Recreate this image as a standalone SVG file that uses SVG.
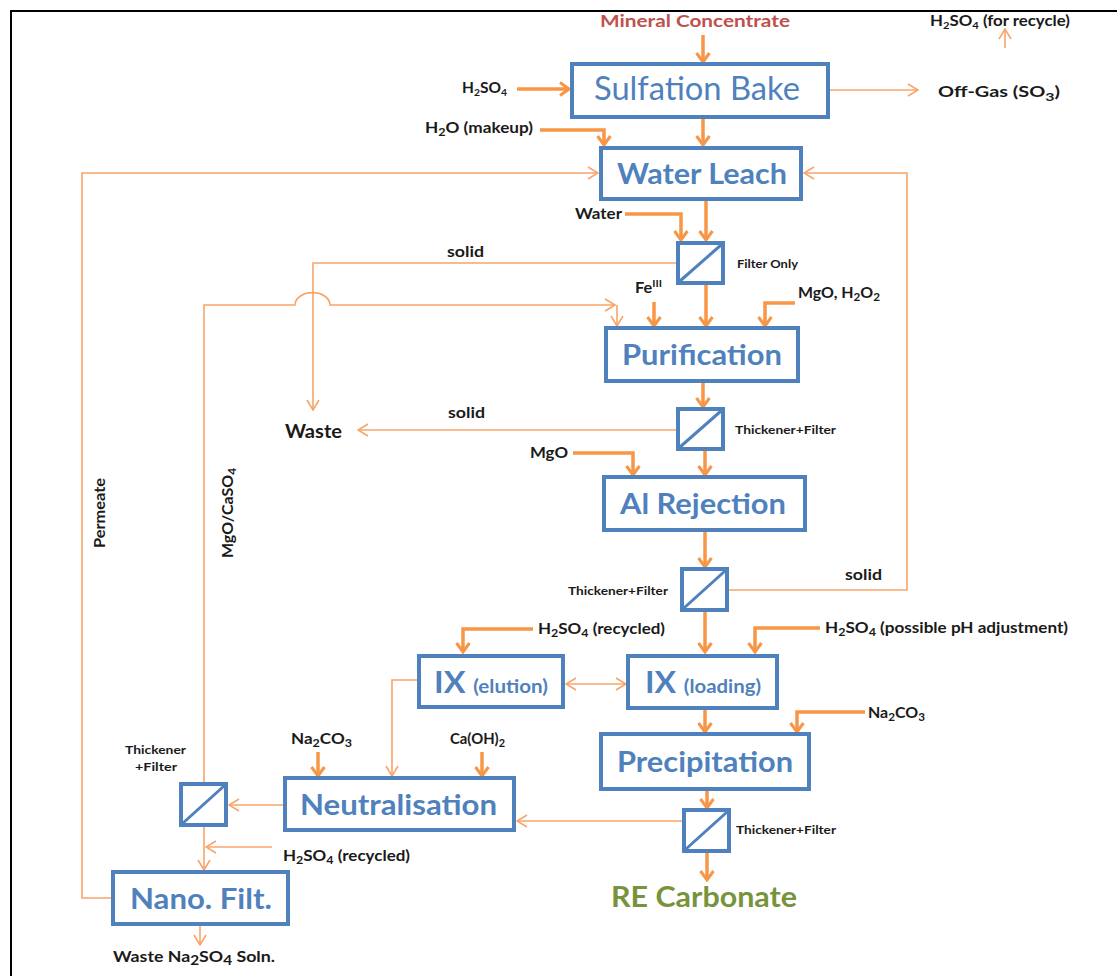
<svg xmlns="http://www.w3.org/2000/svg" width="1117" height="976" viewBox="0 0 1117 976">
<style>
.bg{fill:#fff}
.box{fill:#fff;stroke:#4F81BD;stroke-width:4}
.flt{fill:#fff;stroke:#4F81BD;stroke-width:4}
.diag{stroke:#4F81BD;stroke-width:3}
.bt{font-family:Lato,"Open Sans",sans-serif;font-weight:bold;fill:#4F81BD}
.lb{font-family:Lato,"Open Sans",sans-serif;font-weight:bold;fill:#1a1a1a;font-size:15px}
.sm{font-family:Lato,"Open Sans",sans-serif;font-weight:bold;fill:#1a1a1a;font-size:12px}
.thick{fill:none;stroke:#F79646;stroke-width:3.5;marker-end:url(#ah)}
.thin{fill:none;stroke:#F8A468;stroke-width:1.6;marker-end:url(#at)}
.plain{fill:none;stroke:#F8A468;stroke-width:1.6}
</style>
<defs>
<marker id="ah" viewBox="0 0 12 16" refX="10" refY="8" markerWidth="12" markerHeight="16" orient="auto" markerUnits="userSpaceOnUse">
<path d="M1,1.5 L10,8 L1,14.5" fill="none" stroke="#F79646" stroke-width="3"/>
</marker>
<marker id="at" viewBox="0 0 12 16" refX="11" refY="8" markerWidth="12" markerHeight="16" orient="auto-start-reverse" markerUnits="userSpaceOnUse">
<path d="M1,2 L11,8 L1,14" fill="none" stroke="#F8A468" stroke-width="1.6"/>
</marker>
</defs>
<rect class="bg" x="0" y="0" width="1117" height="976"/>
<path d="M11,976 V11 H1117" fill="none" stroke="#000" stroke-width="2"/>

<g id="connectors">
<path class="thick" d="M703,35 V62"/>
<path class="thick" d="M517,89 H569"/>
<path class="thin" d="M829,90 H918"/>
<path class="thin" d="M1005,48 V29"/>
<path class="thick" d="M703,117 V145"/>
<path class="thick" d="M540,130 H604 V145"/>
<path class="thin" d="M113,898 H82 V173 H598"/>
<path class="thin" d="M727,590 H907 V173 H804"/>
<path class="thick" d="M625,214 H681 V240"/>
<path class="thick" d="M706,199 V240"/>
<path class="thin" d="M678,263 H313 V410"/>
<path class="plain" d="M204,785 V305 H295 A17,12 0 0 1 330,305 H615"/>
<path d="M605,299 L615,305 L605,311" fill="none" stroke="#F8A468" stroke-width="1.6"/>
<path class="thin" d="M617,305 V326"/>
<path class="thick" d="M654,302 V326"/>
<path class="thick" d="M706,283 V326"/>
<path class="thick" d="M795,303 H765 V326"/>
<path class="thick" d="M703,382 V407"/>
<path class="thin" d="M678,430 H358"/>
<path class="thick" d="M573,453 H633 V475"/>
<path class="thick" d="M705,449 V475"/>
<path class="thick" d="M705,530 V567"/>
<path class="thick" d="M705,610 V652"/>
<path class="thick" d="M820,628 H755 V652"/>
<path class="thick" d="M533,629 H463 V652"/>
<path class="thin" style="marker-start:url(#at)" d="M566,684 H626"/>
<path class="thin" d="M419,680 H392 V776"/>
<path class="thick" d="M318,752 V776"/>
<path class="thick" d="M482,752 V776"/>
<path class="thin" d="M285,805 H229"/>
<path class="thick" d="M705,708 V732"/>
<path class="thick" d="M865,712 H797 V732"/>
<path class="thick" d="M707,789 V808"/>
<path class="thin" d="M684,821 H517"/>
<path class="thick" d="M707,851 V880"/>
<path class="thin" d="M204,825 V870"/>
<path class="thin" d="M272,847 H206"/>
<path class="thin" d="M200,924 V945"/>
</g>

<g id="sulfation-bake">
<rect class="box" x="572" y="64" width="256" height="53"/>
<text x="594" y="100" textLength="206" lengthAdjust="spacingAndGlyphs" font-family="Lato,'Open Sans',sans-serif" font-size="32" fill="#4F81BD">Sulfation Bake</text>
</g>
<g id="water-leach">
<rect class="box" x="601" y="148" width="200" height="51"/>
<text class="bt" x="617" y="184" font-size="29" textLength="170" lengthAdjust="spacingAndGlyphs">Water Leach</text>
</g>
<g id="filter1">
<rect class="flt" x="678" y="243" width="45" height="40"/>
<line class="diag" x1="680" y1="281" x2="721" y2="245"/>
</g>
<g id="purification">
<rect class="box" x="606" y="328" width="192" height="53"/>
<text class="bt" x="622" y="365" font-size="29" textLength="160" lengthAdjust="spacingAndGlyphs">Purification</text>
</g>
<g id="filter2">
<rect class="flt" x="678" y="409" width="45" height="40"/>
<line class="diag" x1="680" y1="447" x2="721" y2="411"/>
</g>
<g id="al-rejection">
<rect class="box" x="604" y="477" width="201" height="53"/>
<text class="bt" x="620" y="514" font-size="29" textLength="166" lengthAdjust="spacingAndGlyphs">Al Rejection</text>
</g>
<g id="filter3">
<rect class="flt" x="682" y="569" width="45" height="41"/>
<line class="diag" x1="684" y1="608" x2="725" y2="571"/>
</g>
<g id="ix-elution">
<rect class="box" x="419" y="656" width="144" height="51"/>
<text class="bt" x="434" y="693" font-size="30" textLength="114" lengthAdjust="spacingAndGlyphs">IX <tspan font-size="19">(elution)</tspan></text>
</g>
<g id="ix-loading">
<rect class="box" x="628" y="656" width="149" height="52"/>
<text class="bt" x="645" y="693" font-size="30" textLength="116" lengthAdjust="spacingAndGlyphs">IX <tspan font-size="19">(loading)</tspan></text>
</g>
<g id="precipitation">
<rect class="box" x="601" y="734" width="208" height="55"/>
<text class="bt" x="617" y="772" font-size="29" textLength="176" lengthAdjust="spacingAndGlyphs">Precipitation</text>
</g>
<g id="filter5">
<rect class="flt" x="684" y="810" width="45" height="41"/>
<line class="diag" x1="686" y1="849" x2="727" y2="812"/>
</g>
<g id="neutralisation">
<rect class="box" x="285" y="778" width="229" height="52"/>
<text class="bt" x="300" y="815" font-size="29" textLength="197" lengthAdjust="spacingAndGlyphs">Neutralisation</text>
</g>
<g id="filter4">
<rect class="flt" x="181" y="784" width="45" height="41"/>
<line class="diag" x1="183" y1="823" x2="224" y2="786"/>
</g>
<g id="nano-filt">
<rect class="box" x="113" y="872" width="175" height="52"/>
<text class="bt" x="130" y="909" font-size="29" textLength="142" lengthAdjust="spacingAndGlyphs">Nano. Filt.</text>
</g>
<g id="re-carbonate">
<text x="611" y="907" font-family="Lato,'Open Sans',sans-serif" font-weight="bold" font-size="29" fill="#77933C" textLength="186" lengthAdjust="spacingAndGlyphs">RE Carbonate</text>
</g>

<g id="labels">
<text x="600" y="27" font-family="Lato,'Open Sans',sans-serif" font-weight="bold" font-size="17" fill="#C0504D" textLength="190" lengthAdjust="spacingAndGlyphs">Mineral Concentrate</text>
<text class="lb" x="930" y="26" font-size="14" textLength="140" lengthAdjust="spacingAndGlyphs">H<tspan font-size="10" dy="3">2</tspan><tspan dy="-3">SO</tspan><tspan font-size="10" dy="3">4</tspan><tspan dy="-3"> (for recycle)</tspan></text>
<text class="lb" x="938" y="97" font-size="18" textLength="122" lengthAdjust="spacingAndGlyphs">Off-Gas (SO<tspan font-size="12" dy="4">3</tspan><tspan dy="-4">)</tspan></text>
<text class="lb" x="462" y="93" font-size="14" textLength="45" lengthAdjust="spacingAndGlyphs">H<tspan font-size="10" dy="3">2</tspan><tspan dy="-3">SO</tspan><tspan font-size="10" dy="3">4</tspan></text>
<text class="lb" x="425" y="133" textLength="108" lengthAdjust="spacingAndGlyphs">H<tspan font-size="11" dy="3">2</tspan><tspan dy="-3">O (makeup)</tspan></text>
<text class="lb" x="575" y="219" textLength="47" lengthAdjust="spacingAndGlyphs">Water</text>
<text class="lb" x="447" y="257" textLength="37" lengthAdjust="spacingAndGlyphs">solid</text>
<text class="sm" x="737" y="268" textLength="61" lengthAdjust="spacingAndGlyphs">Filter Only</text>
<text class="lb" x="635" y="293" textLength="27" lengthAdjust="spacingAndGlyphs">Fe<tspan font-size="10" dy="-6">III</tspan></text>
<text class="lb" x="798" y="298" font-size="16" textLength="82" lengthAdjust="spacingAndGlyphs">MgO, H<tspan font-size="11" dy="3">2</tspan><tspan dy="-3">O</tspan><tspan font-size="11" dy="3">2</tspan></text>
<text class="lb" x="448" y="418" textLength="37" lengthAdjust="spacingAndGlyphs">solid</text>
<text x="285" y="438" font-family="Lato,'Open Sans',sans-serif" font-weight="bold" font-size="19" fill="#1a1a1a" textLength="57" lengthAdjust="spacingAndGlyphs">Waste</text>
<text class="sm" x="735" y="434" textLength="101" lengthAdjust="spacingAndGlyphs">Thickener+Filter</text>
<text class="lb" x="530" y="458" textLength="38" lengthAdjust="spacingAndGlyphs">MgO</text>
<text class="sm" x="568" y="595" textLength="100" lengthAdjust="spacingAndGlyphs">Thickener+Filter</text>
<text class="lb" x="845" y="580" textLength="37" lengthAdjust="spacingAndGlyphs">solid</text>
<text class="lb" x="538" y="634" textLength="127" lengthAdjust="spacingAndGlyphs">H<tspan font-size="11" dy="3">2</tspan><tspan dy="-3">SO</tspan><tspan font-size="11" dy="3">4</tspan><tspan dy="-3"> (recycled)</tspan></text>
<text class="lb" x="825" y="633" textLength="243" lengthAdjust="spacingAndGlyphs">H<tspan font-size="11" dy="3">2</tspan><tspan dy="-3">SO</tspan><tspan font-size="11" dy="3">4</tspan><tspan dy="-3"> (possible pH adjustment)</tspan></text>
<text class="lb" x="868" y="718" textLength="57" lengthAdjust="spacingAndGlyphs">Na<tspan font-size="11" dy="3">2</tspan><tspan dy="-3">CO</tspan><tspan font-size="11" dy="3">3</tspan></text>
<text class="lb" x="291" y="744" textLength="61" lengthAdjust="spacingAndGlyphs">Na<tspan font-size="11" dy="3">2</tspan><tspan dy="-3">CO</tspan><tspan font-size="11" dy="3">3</tspan></text>
<text class="lb" x="450" y="744" textLength="55" lengthAdjust="spacingAndGlyphs">Ca(OH)<tspan font-size="11" dy="3">2</tspan></text>
<text class="sm" x="125" y="754" textLength="61" lengthAdjust="spacingAndGlyphs">Thickener</text>
<text class="sm" x="135" y="771" textLength="42" lengthAdjust="spacingAndGlyphs">+Filter</text>
<text class="sm" x="736" y="834" textLength="100" lengthAdjust="spacingAndGlyphs">Thickener+Filter</text>
<text class="lb" x="283" y="861" textLength="127" lengthAdjust="spacingAndGlyphs">H<tspan font-size="11" dy="3">2</tspan><tspan dy="-3">SO</tspan><tspan font-size="11" dy="3">4</tspan><tspan dy="-3"> (recycled)</tspan></text>
<text class="lb" x="113" y="962" font-size="18" textLength="162" lengthAdjust="spacingAndGlyphs">Waste Na<tspan font-size="13" dy="3">2</tspan><tspan dy="-3">SO</tspan><tspan font-size="13" dy="3">4</tspan><tspan dy="-3"> Soln.</tspan></text>
<text class="lb" transform="translate(105,548) rotate(-90)" textLength="70" lengthAdjust="spacingAndGlyphs">Permeate</text>
<text class="lb" transform="translate(233,558) rotate(-90)" textLength="90" lengthAdjust="spacingAndGlyphs">MgO/CaSO<tspan font-size="11" dy="3">4</tspan></text>
</g>
</svg>
